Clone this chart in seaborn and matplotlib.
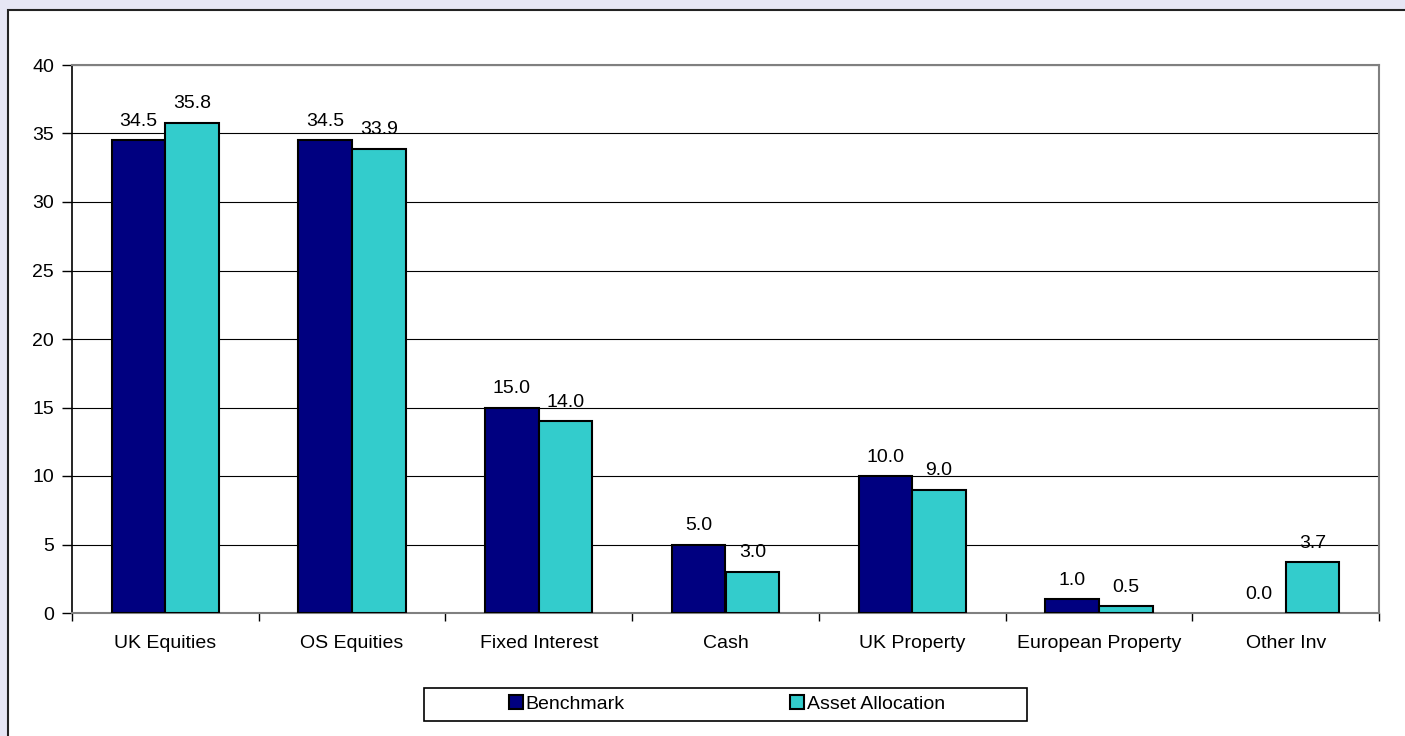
import matplotlib
matplotlib.use("Agg")
import matplotlib.pyplot as plt
from matplotlib.patches import Rectangle
import seaborn as sns
import pandas as pd

categories = ["UK Equities", "OS Equities", "Fixed Interest", "Cash", "UK Property", "European Property", "Other Inv"]
benchmark = [34.5, 34.5, 15.0, 5.0, 10.0, 1.0, 0.0]
asset_allocation = [35.8, 33.9, 14.0, 3.0, 9.0, 0.5, 3.7]
series_names = ["Benchmark", "Asset Allocation"]
yticks = [0, 5, 10, 15, 20, 25, 30, 35, 40]

df = pd.DataFrame({
    "category": categories * 2,
    "series": [series_names[0]] * len(categories) + [series_names[1]] * len(categories),
    "value": benchmark + asset_allocation,
})

sns.set_theme(style="white")
plt.rcParams['font.family'] = ['Liberation Sans', 'DejaVu Sans']
plt.rcParams['text.color'] = 'black'
plt.rcParams['xtick.color'] = 'black'
plt.rcParams['ytick.color'] = 'black'
FS = 14

fig = plt.figure(figsize=(14.05, 7.36), dpi=100)
fig.patch.set_facecolor("#E6E6F4")
# white panel with dark border
fig.patches.append(Rectangle((8 / 1405, -0.05), 1.2, (736 - 9.5) / 736 + 0.05,
                             transform=fig.transFigure, facecolor="white",
                             edgecolor="#222222", linewidth=1.5, zorder=-5))

ax = fig.add_axes([72 / 1405, 1 - 613 / 736, (1379 - 72) / 1405, (613 - 65) / 736])
ax.set_zorder(3)
ax.set_facecolor("white")

sns.barplot(data=df, x="category", y="value", hue="series", order=categories,
            hue_order=series_names, palette=["#000080", "#33CCCC"],
            width=0.575, gap=0, edgecolor="black", linewidth=1.5,
            saturation=1, ax=ax, legend=False, zorder=3)

for cont in ax.containers:
    for p in cont.patches:
        if p.get_height() == 0:
            p.set_linewidth(0)
    labels = [f"{v:.1f}" for v in cont.datavalues]
    ax.bar_label(cont, labels=labels, padding=7.5, fontsize=FS, color="black")

ax.set_ylim(0, 40)
ax.set_yticks(yticks)
ax.set_xlim(-0.5, len(categories) - 0.5)
ax.yaxis.grid(True, color="black", linewidth=0.8, zorder=0)
ax.set_axisbelow(True)
ax.set_xlabel("")
ax.set_ylabel("")

ax.set_xticks(range(len(categories)))
ax.set_xticklabels(categories)
ax.set_xticks([i - 0.5 for i in range(len(categories) + 1)], minor=True)
ax.tick_params(axis="x", which="major", length=0, pad=16, labelsize=FS, labelcolor="black")
ax.tick_params(axis="x", which="minor", length=6, width=1, color="black", direction="out", bottom=True)
ax.tick_params(axis="y", length=7, width=1, color="black", pad=6, labelsize=FS,
               labelcolor="black", direction="out", left=True)

for side in ["top", "right"]:
    ax.spines[side].set_color("#808080")
    ax.spines[side].set_linewidth(1.5)
ax.spines["left"].set_color("black")
ax.spines["left"].set_linewidth(1.2)
ax.spines["bottom"].set_color("#808080")
ax.spines["bottom"].set_linewidth(1.5)

# legend frame
fig.patches.append(Rectangle((424 / 1405, 1 - 721 / 736), 603 / 1405, 33 / 736,
                             transform=fig.transFigure, facecolor="white",
                             edgecolor="black", linewidth=1.2, zorder=1))
handles = [Rectangle((0, 0), 1, 1, facecolor=c, edgecolor="black", linewidth=1.5)
           for c in ["#000080", "#33CCCC"]]
leg = fig.legend(handles, series_names, loc="center", bbox_to_anchor=(727 / 1405, 1 - 704 / 736),
                 ncol=2, frameon=False, fontsize=FS, handlelength=0.7, handleheight=0.7,
                 handletextpad=0.15, columnspacing=8.5, labelcolor="black")

fig.savefig("out.png", dpi=100, facecolor=fig.get_facecolor())
